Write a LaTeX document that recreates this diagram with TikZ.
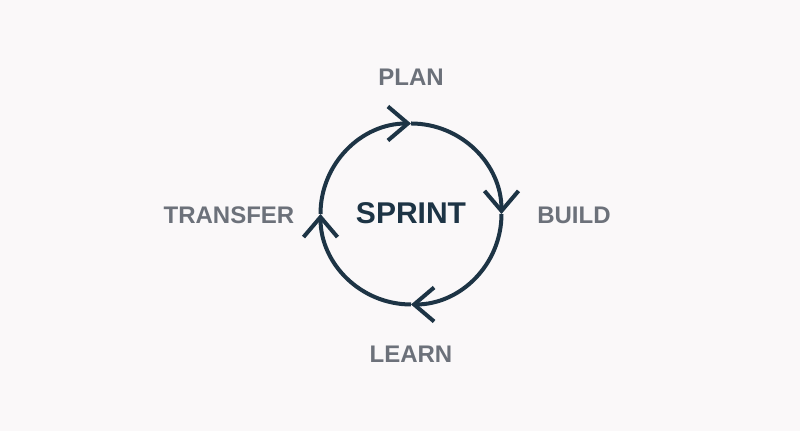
\documentclass[tikz,border=0pt]{standalone}
\usepackage{fontspec}
\setmainfont{Liberation Sans}
\usetikzlibrary{arrows.meta}
\definecolor{sprintnavy}{HTML}{1D3445}
\definecolor{labelgray}{HTML}{6C717A}
\definecolor{bggray}{HTML}{FAF8F9}
\tikzset{
  phase/.style={text=labelgray,font=\bfseries\fontsize{12}{14}\selectfont},
  loopline/.style={sprintnavy,line width=2pt}
}
\begin{document}
\begin{tikzpicture}[x=0.5pt,y=0.5pt,>={Straight Barb[length=10pt,width=17pt]}]
\fill[bggray] (0,0) rectangle (800,431);
\coordinate (west) at (320.5,217);
\coordinate (north) at (411,307.5);
\coordinate (east) at (501.5,217);
\coordinate (south) at (411,126.5);
\node[text=sprintnavy,font=\bfseries\fontsize{15}{18}\selectfont] (sprint) at (411,217.5) {SPRINT};
\node[phase] (plan) at (411,353.5) {PLAN};
\node[phase] (build) at (574,216) {BUILD};
\node[phase] (learn) at (411,77) {LEARN};
\node[phase] (transfer) at (229,216) {TRANSFER};
% the sprint cycle, clockwise
\draw[loopline,->] (west) arc[start angle=180,end angle=90,radius=90.5];
\draw[loopline,->] (north) arc[start angle=90,end angle=0,radius=90.5];
\draw[loopline,->] (east) arc[start angle=0,end angle=-90,radius=90.5];
\draw[loopline,->] (south) arc[start angle=-90,end angle=-180,radius=90.5];
\end{tikzpicture}
\end{document}
